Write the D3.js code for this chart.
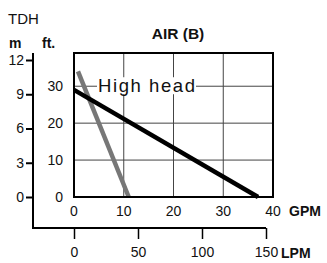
<html>
<head>
    <script src="https://d3js.org/d3.v7.min.js"></script>
    <style>
        body { margin: 0; background: #fff; }
        text { font-family: "Liberation Sans", Arial, sans-serif; fill: #111; }
    </style>
</head>
<body>
    <svg id="chart" width="327" height="263"></svg>
    <script>
        // curves: [GPM, ft]
        const highHead = [[0, 29], [37, 0]];
        const grayCurve = [[0.8, 34], [11, 0]];
        const gpmTicks = [0, 10, 20, 30, 40];
        const lpmTicks = [0, 50, 100, 150];
        const ftTicks = [0, 10, 20, 30];
        const mTicks = [0, 3, 6, 9, 12];

        const svg = d3.select("#chart");
        const FONT = "Liberation Sans, Arial, sans-serif";

        const x = d3.scaleLinear().domain([0, 40]).range([74, 273]);
        const y = d3.scaleLinear().domain([0, 39]).range([197, 53]);
        const xL = d3.scaleLinear().domain([0, 150]).range([74, 266]);
        const yM = d3.scaleLinear().domain([0, 12]).range([197, 60]);

        // grid
        const g = svg.append("g");
        g.selectAll(".hg").data(ftTicks.filter(d => d > 0)).enter().append("line")
            .attr("x1", x(0)).attr("x2", x(40))
            .attr("y1", d => y(d)).attr("y2", d => y(d))
            .attr("stroke", "#444").attr("stroke-width", 1);
        g.selectAll(".vg").data(gpmTicks.filter(d => d > 0 && d < 40)).enter().append("line")
            .attr("x1", d => x(d)).attr("x2", d => x(d))
            .attr("y1", y(0)).attr("y2", y(39))
            .attr("stroke", "#444").attr("stroke-width", 1);

        // "High head" label with white backing
        const lbl = svg.append("text").attr("x", 98).attr("y", y(30) + 6)
            .attr("font-size", 18.5).attr("textLength", 97).attr("lengthAdjust", "spacing")
            .text("High head");
        const bb = lbl.node().getBBox();
        svg.insert("rect", "text").attr("x", bb.x - 1).attr("y", bb.y + 2).attr("width", bb.width + 2)
            .attr("height", bb.height - 4).attr("fill", "#fff");

        const line = d3.line().x(d => x(d[0])).y(d => y(d[1]));
        svg.append("path").datum(grayCurve).attr("d", line)
            .attr("stroke", "#777").attr("stroke-width", 4.5).attr("fill", "none");
        svg.append("path").datum(highHead).attr("d", line)
            .attr("stroke", "#000").attr("stroke-width", 4.5).attr("fill", "none");

        // frame
        svg.append("rect").attr("x", x(0)).attr("y", y(39))
            .attr("width", x(40) - x(0)).attr("height", y(0) - y(39))
            .attr("fill", "none").attr("stroke", "#000").attr("stroke-width", 2);

        // ft labels
        svg.selectAll(".ft").data(ftTicks).enter().append("text")
            .attr("x", 63).attr("y", d => y(d) + 5).attr("text-anchor", "end")
            .attr("font-size", 14).text(d => d);

        // GPM labels
        svg.selectAll(".gpm").data(gpmTicks).enter().append("text")
            .attr("x", d => x(d)).attr("y", 216).attr("text-anchor", "middle")
            .attr("font-size", 14).text(d => d);
        svg.append("text").attr("x", 289).attr("y", 216).attr("font-size", 14)
            .attr("font-weight", "bold").text("GPM");

        // m axis + LPM axis (outer L)
        const mAxis = svg.append("g").attr("transform", "translate(33,0)")
            .call(d3.axisLeft(yM).tickValues(mTicks).tickSize(7).tickPadding(2));
        mAxis.select(".domain").remove();
        mAxis.selectAll("line").attr("stroke-width", 2);
        mAxis.selectAll("text").attr("font-size", 14).style("font-family", FONT);
        svg.append("path").attr("d", `M33,${yM(12) - 7}V228H${xL(150)}`)
            .attr("stroke", "#000").attr("stroke-width", 2).attr("fill", "none");

        const lAxis = svg.append("g").attr("transform", "translate(0,228)")
            .call(d3.axisBottom(xL).tickValues(lpmTicks).tickSize(11).tickPadding(8));
        lAxis.select(".domain").remove();
        lAxis.selectAll("line").attr("stroke-width", 1.5);
        lAxis.selectAll("text").attr("font-size", 14).style("font-family", FONT);
        svg.append("text").attr("x", 281).attr("y", 258).attr("font-size", 14)
            .attr("font-weight", "bold").text("LPM");

        // titles
        svg.append("text").attr("x", 178).attr("y", 39).attr("text-anchor", "middle")
            .attr("font-size", 15.5).attr("font-weight", "bold").text("AIR (B)");
        svg.append("text").attr("x", 8).attr("y", 24).attr("font-size", 15).text("TDH");
        svg.append("text").attr("x", 9).attr("y", 48).attr("font-size", 14)
            .attr("font-weight", "bold").text("m");
        svg.append("text").attr("x", 42).attr("y", 48).attr("font-size", 14)
            .attr("font-weight", "bold").text("ft.");
    </script>
</body>
</html>
